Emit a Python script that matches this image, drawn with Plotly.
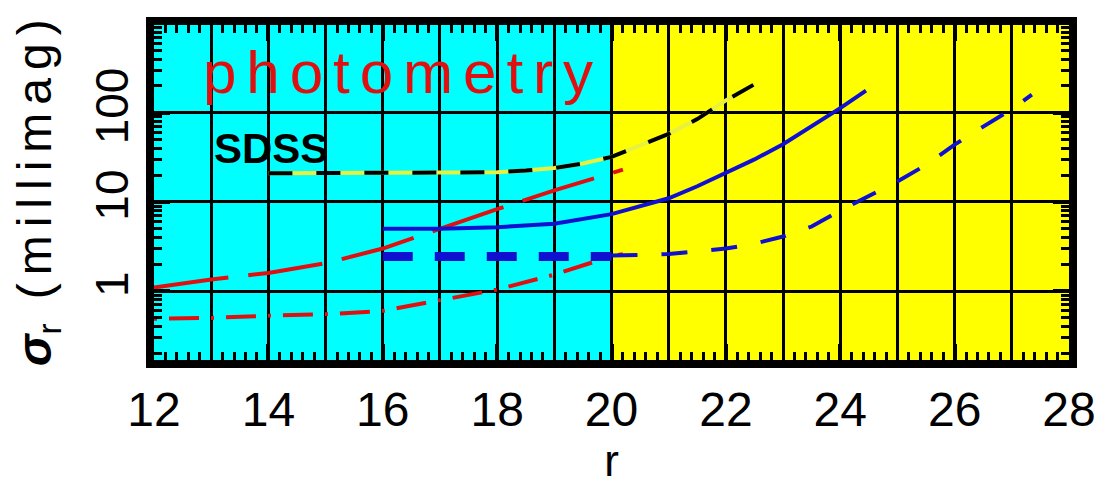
import plotly.graph_objects as go

# ---- data ----
sdss_r = [14, 15, 16, 17, 18, 18.5, 19, 19.5, 20, 20.5, 21, 21.5, 22, 22.5]
sdss_s = [21, 21, 21, 21, 21.5, 22.5, 24, 27, 32, 43, 58, 85, 138, 209]

blue_solid_r = [16, 17, 18, 19, 20, 20.5, 21, 21.5, 22, 22.5, 23, 23.5, 24, 24.45]
blue_solid_s = [5.0, 5.0, 5.2, 5.7, 7.3, 8.9, 11, 15, 21, 30, 44.5, 70, 113, 177]

blue_thick_r = [16, 20]
blue_thick_s = [2.45, 2.45]

blue_dash_r = [20, 21, 22, 22.5, 23, 23.5, 24, 24.5, 25, 25.5, 26, 26.5, 27, 27.35]
blue_dash_s = [2.5, 2.6, 3.0, 3.4, 4.1, 5.3, 8.0, 11.5, 17, 26, 44, 70, 110, 160]

red_long_r = [12, 13, 14, 15, 16, 17, 18, 19, 20, 20.2]
red_long_s = [1.1, 1.35, 1.6, 2.05, 3.0, 5.0, 8.3, 13.5, 21, 23]

red_dd_r = [12, 13, 14, 15, 16, 17, 18, 19, 20, 20.2]
red_dd_s = [0.49, 0.5, 0.53, 0.55, 0.6, 0.78, 1.04, 1.53, 2.46, 2.6]

region_x0 = [12, 20]
region_x1 = [20, 28]
region_colors = ["#00FFFF", "#FFFF00"]

x_major = list(range(12, 29, 2))
x_odd = list(range(13, 28, 2))
y_ticks = [1, 10, 100]
y_ticktext = ["1", "10", "100"]
y_minor = [m * d for d in (0.1, 1, 10, 100) for m in range(2, 10)]

FONT = "Liberation Sans"
RED = "#e01010"
BLUE = "#1010d0"

fig = go.Figure()

for x0, x1, c in zip(region_x0, region_x1, region_colors):
    fig.add_shape(type="rect", xref="x", yref="paper", x0=x0, x1=x1, y0=0, y1=1,
                  fillcolor=c, line_width=0, layer="below")

# SDSS: yellow under black dashes
fig.add_trace(go.Scatter(x=sdss_r, y=sdss_s, mode="lines",
                         line=dict(color="#e8f040", width=4), hoverinfo="skip"))
fig.add_trace(go.Scatter(x=sdss_r, y=sdss_s, mode="lines",
                         line=dict(color="black", width=4, dash="24px,24px")))

fig.add_trace(go.Scatter(x=red_long_r, y=red_long_s, mode="lines",
                         line=dict(color=RED, width=4, dash="75px,20px")))
fig.add_trace(go.Scatter(x=red_dd_r, y=red_dd_s, mode="lines",
                         line=dict(color=RED, width=4, dash="3px,12px,30px,12px")))
fig.add_trace(go.Scatter(x=blue_solid_r, y=blue_solid_s, mode="lines",
                         line=dict(color=BLUE, width=4)))
fig.add_trace(go.Scatter(x=blue_thick_r, y=blue_thick_s, mode="lines",
                         line=dict(color=BLUE, width=9, dash="30px,22px")))
fig.add_trace(go.Scatter(x=blue_dash_r, y=blue_dash_s, mode="lines",
                         line=dict(color=BLUE, width=4, dash="26px,24px")))
# empty trace so the overlay axis (odd-integer grid + fine ticks) is drawn
fig.add_trace(go.Scatter(x=[None], y=[None], xaxis="x2", mode="lines",
                         hoverinfo="skip"))

SP = "\u2006"
fig.add_annotation(x=0.267, y=0.858, xref="paper", yref="paper",
                   xanchor="center", yanchor="middle",
                   text=SP.join("photometry"),
                   showarrow=False, font=dict(family=FONT, size=60, color=RED))
fig.add_annotation(x=0.128, y=0.63, xref="paper", yref="paper",
                   xanchor="center", yanchor="middle", text="<b>SDSS</b>",
                   showarrow=False, font=dict(family=FONT, size=42, color="black"))
# y-axis title
fig.add_annotation(x=-0.127, y=0.50, xref="paper", yref="paper",
                   xanchor="center", yanchor="middle", textangle=-90,
                   text="<b><i>σ</i></b><sub>r</sub>" + "\u2002" + SP.join("(millimag)"),
                   showarrow=False, font=dict(family=FONT, size=48, color="black"))

fig.update_layout(
    width=1103, height=490,
    margin=dict(l=146, r=42, t=9, b=138),
    paper_bgcolor="white", plot_bgcolor="white",
    showlegend=False,
    font=dict(family=FONT, color="black"),
    xaxis=dict(range=[12, 28], tickvals=x_major,
               showgrid=True, gridcolor="black", gridwidth=3,
               ticks="inside", ticklen=16, tickwidth=4, tickcolor="black",
               showline=True, linecolor="black", linewidth=8, mirror="ticks",
               zeroline=False, tickfont=dict(size=48, family=FONT),
               title=dict(text="r", font=dict(size=44, family=FONT), standoff=6)),
    xaxis2=dict(range=[12, 28], overlaying="x", side="bottom", anchor="y",
                tickvals=x_odd, showticklabels=False,
                showgrid=True, gridcolor="black", gridwidth=3,
                ticks="inside", ticklen=8, tickwidth=3, tickcolor="black",
                minor=dict(dtick=0.2, tick0=12, ticks="inside", ticklen=8, tickwidth=3,
                           tickcolor="black", showgrid=False),
                showline=False, mirror="ticks", zeroline=False),
    yaxis=dict(type="log", range=[-0.773, 2.985], tickvals=y_ticks, ticktext=y_ticktext,
               showgrid=True, gridcolor="black", gridwidth=3,
               ticks="inside", ticklen=16, tickwidth=4, tickcolor="black",
               minor=dict(tickvals=y_minor, ticks="inside", ticklen=8, tickwidth=3,
                          tickcolor="black", showgrid=False),
               showline=True, linecolor="black", linewidth=8, mirror="ticks",
               zeroline=False, tickangle=-90, tickfont=dict(size=46, family=FONT)),
)

fig.write_html("out.html")
